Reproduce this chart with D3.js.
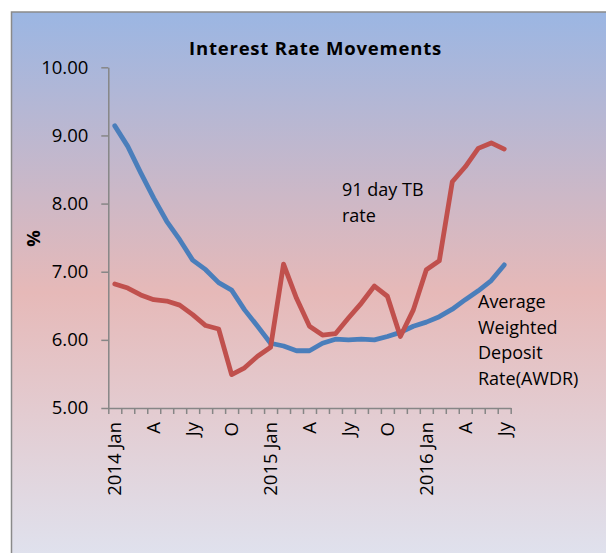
<!DOCTYPE html>
<html>
<head>
<meta charset="utf-8">
<script src="https://cdn.jsdelivr.net/npm/d3@7"></script>
<style>
  body { margin: 0; background: #fff; }
  text { font-family: "Open Sans", sans-serif; fill: #000; }
</style>
</head>
<body>
<svg id="chart" width="606" height="553"></svg>
<script>
// months Jan 2014 .. Jul 2016
var months = ["2014-01","2014-02","2014-03","2014-04","2014-05","2014-06","2014-07","2014-08","2014-09","2014-10","2014-11","2014-12",
              "2015-01","2015-02","2015-03","2015-04","2015-05","2015-06","2015-07","2015-08","2015-09","2015-10","2015-11","2015-12",
              "2016-01","2016-02","2016-03","2016-04","2016-05","2016-06","2016-07"];
var monthLabels = ["2014 Jan","","","A","","","Jy","","","O","","",
                   "2015 Jan","","","A","","","Jy","","","O","","",
                   "2016 Jan","","","A","","","Jy"];
var awdr = [9.14,8.84,8.45,8.08,7.74,7.47,7.17,7.03,6.84,6.73,6.44,6.20,
            5.95,5.91,5.84,5.84,5.95,6.01,6.00,6.01,6.00,6.05,6.11,6.20,
            6.26,6.34,6.45,6.59,6.72,6.87,7.10];
var tbRate = [6.82,6.76,6.66,6.59,6.57,6.51,6.37,6.21,6.16,5.49,5.59,5.76,
              5.89,7.11,6.61,6.20,6.07,6.09,6.32,6.54,6.79,6.64,6.05,6.44,
              7.03,7.16,8.32,8.54,8.81,8.89,8.80];
var yTicks = [5, 6, 7, 8, 9, 10];

var svg = d3.select("#chart");

// background frame with gradient
var defs = svg.append("defs");
var grad = defs.append("linearGradient").attr("id","bg").attr("x1",0).attr("y1",0).attr("x2",0).attr("y2",1);
grad.append("stop").attr("offset","0%").attr("stop-color","#9bb6e3");
grad.append("stop").attr("offset","50%").attr("stop-color","#e6b9b8");
grad.append("stop").attr("offset","100%").attr("stop-color","#dfe4f1");

svg.append("rect").attr("x",11.5).attr("y",12).attr("width",620).attr("height",560)
  .attr("fill","url(#bg)").attr("stroke","#8a8a8a").attr("stroke-width",1.5);

var plotLeft = 108.3, plotRight = 510.7, plotTop = 67.3, plotBottom = 408;

var x = d3.scaleBand().domain(months).range([plotLeft, plotRight]).padding(0);
var xb = d3.scaleLinear().domain([0, months.length]).range([plotLeft, plotRight]);
var y = d3.scaleLinear().domain([5, 10]).range([plotBottom, plotTop]);

// y axis
var yAxis = svg.append("g").attr("transform","translate(" + plotLeft + ",0)")
  .call(d3.axisLeft(y).tickValues(yTicks).tickFormat(d3.format(".2f")).tickSize(7).tickPadding(13).tickSizeOuter(0));
yAxis.selectAll("line,path").attr("stroke","#868686").attr("stroke-width",1.5);
yAxis.selectAll("text").style("font-size","18.5px").style("font-family","'Open Sans', sans-serif");

// x axis: ticks at category boundaries
var xAxis = svg.append("g").attr("transform","translate(0," + plotBottom + ")")
  .call(d3.axisBottom(xb).tickValues(d3.range(months.length + 1)).tickFormat("").tickSize(6).tickSizeOuter(0));
xAxis.selectAll("line,path").attr("stroke","#868686").attr("stroke-width",1.5);

// x labels
var xLab = svg.append("g").attr("transform","translate(0," + plotBottom + ")")
  .call(d3.axisBottom(x).tickSize(0).tickFormat(function(d, i) { return monthLabels[i]; }));
xLab.select(".domain").remove();
xLab.selectAll("text")
  .style("font-size","18.5px").style("font-family","'Open Sans', sans-serif")
  .attr("text-anchor","end")
  .attr("transform","rotate(-90)")
  .attr("x",-14).attr("y",0).attr("dy","0.35em");

// lines
var line = function(vals) {
  return d3.line()
    .x(function(d, i) { return x(months[i]) + x.bandwidth() / 2; })
    .y(function(d) { return y(d); })(vals);
};
svg.append("path").attr("d", line(awdr)).attr("fill","none")
  .attr("stroke","#4a7ebb").attr("stroke-width",4.8).attr("stroke-linejoin","round").attr("stroke-linecap","round");
svg.append("path").attr("d", line(tbRate)).attr("fill","none")
  .attr("stroke","#c0504d").attr("stroke-width",4.8).attr("stroke-linejoin","round").attr("stroke-linecap","round");

// title
svg.append("text").attr("x",315.5).attr("y",55).attr("text-anchor","middle")
  .style("font-size","18.5px").style("font-weight","bold").style("letter-spacing","0.8px")
  .text("Interest Rate Movements");

// y axis title
svg.append("text").attr("transform","translate(40,238.5) rotate(-90)").attr("text-anchor","middle")
  .style("font-size","18.5px").style("font-weight","bold").text("%");

// annotations
var ann1 = svg.append("text").style("font-size","18px");
ann1.append("tspan").attr("x",342).attr("y",196).text("91 day TB");
ann1.append("tspan").attr("x",342).attr("y",222).text("rate");

var ann2 = svg.append("text").style("font-size","18px");
["Average","Weighted","Deposit","Rate(AWDR)"].forEach(function(t, i) {
  ann2.append("tspan").attr("x",478).attr("y",308 + i * 25.7).text(t);
});
</script>
</body>
</html>
